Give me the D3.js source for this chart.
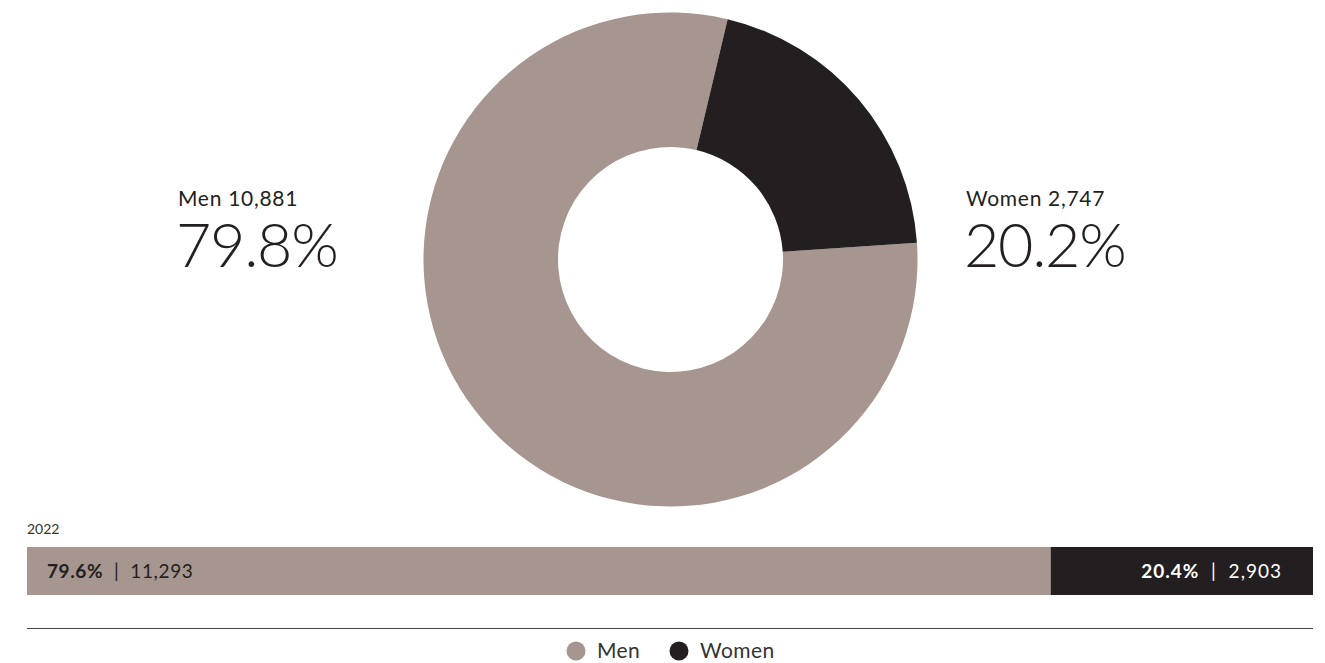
<!DOCTYPE html>
<html>
<head>
<meta charset="utf-8">
<script src="https://cdn.jsdelivr.net/npm/d3@7"></script>
<style>
  html, body { margin: 0; padding: 0; background: #fff; }
  svg { display: block; font-family: Lato, "Open Sans", sans-serif; }
</style>
</head>
<body>
<svg id="chart" width="1325" height="663"></svg>
<script>
// Workforce by gender, current year (donut) and 2022 (bar)
const categories = ["Men", "Women"];
const headcount = [10881, 2747];
const shares = [79.8, 20.2];
const priorYear = "2022";
const priorHeadcount = [11293, 2903];
const priorShares = [79.6, 20.4];
const colors = ["#a6968f", "#231f20"];

const svg = d3.select("#chart");
const ink = "#231f20";
const fmt = d3.format(",");

// ---- Donut ----
const cx = 670.5, cy = 259.5, outerR = 247, innerR = 112.5;
const start = 86.1 * Math.PI / 180;
const pie = d3.pie().sort(null).value(d => d.v)
  .startAngle(start).endAngle(start + 2 * Math.PI);
const arc = d3.arc().innerRadius(innerR).outerRadius(outerR);
const arcs = pie(categories.map((c, i) => ({ c, v: shares[i], i })));

const g = svg.append("g").attr("transform", `translate(${cx},${cy})`);
g.selectAll("path").data(arcs).join("path")
  .attr("d", arc)
  .attr("fill", d => colors[d.data.i]);

// ---- Donut labels: name + headcount line, then large share line ----
const labelX = [178, 966];
categories.forEach((c, i) => {
  const t = svg.append("text")
    .attr("x", labelX[i]).attr("y", 206)
    .attr("fill", ink);
  t.append("tspan")
    .attr("x", labelX[i])
    .attr("font-size", 21).attr("font-weight", 400)
    .attr("letter-spacing", 0.7)
    .text(`${c} ${fmt(headcount[i])}`);
  t.append("tspan")
    .attr("x", labelX[i] - 2).attr("dy", 61)
    .attr("font-size", 61).attr("font-weight", 300)
    .attr("letter-spacing", -1.3)
    .text(`${shares[i].toFixed(1)}%`);
});

// ---- Prior year bar ----
const barX = 27, barW = 1286, barY = 547, barH = 48;
const x = d3.scaleLinear().domain([0, 100]).range([barX, barX + barW]);

svg.append("text")
  .attr("x", barX).attr("y", 534)
  .attr("font-size", 14).attr("fill", "#333")
  .text(priorYear);

let acc = 0;
const segs = priorShares.map((s, i) => {
  const d = { i, x0: acc, x1: acc + s };
  acc += s;
  return d;
});
svg.selectAll("rect.seg").data(segs).join("rect")
  .attr("class", "seg")
  .attr("x", d => x(d.x0))
  .attr("width", d => x(d.x1) - x(d.x0))
  .attr("y", barY).attr("height", barH)
  .attr("fill", d => colors[d.i]);

// left label (Men)
const tMen = svg.append("text")
  .attr("x", x(0) + 20).attr("y", barY + 31)
  .attr("font-size", 19).attr("letter-spacing", 0.6).attr("fill", ink);
tMen.append("tspan").attr("font-weight", 700).text(`${priorShares[0].toFixed(1)}%`);
tMen.append("tspan").attr("font-weight", 400).text(`  |  ${fmt(priorHeadcount[0])}`);

// right label (Women)
const tWom = svg.append("text")
  .attr("x", x(100) - 31).attr("y", barY + 31)
  .attr("text-anchor", "end")
  .attr("font-size", 19).attr("letter-spacing", 1).attr("fill", "#fff");
tWom.append("tspan").attr("font-weight", 700).text(`${priorShares[1].toFixed(1)}%`);
tWom.append("tspan").attr("font-weight", 400).text(`  |  ${fmt(priorHeadcount[1])}`);
[tMen, tWom].forEach(t => t.attr("xml:space", "preserve"));

// ---- Divider ----
svg.append("line")
  .attr("x1", barX).attr("x2", barX + barW)
  .attr("y1", 628.5).attr("y2", 628.5)
  .attr("stroke", "#444").attr("stroke-width", 1.2);

// ---- Legend ----
const legendX = [576, 679];
categories.forEach((c, i) => {
  svg.append("circle")
    .attr("cx", legendX[i]).attr("cy", 651).attr("r", 9.5)
    .attr("fill", colors[i]);
  svg.append("text")
    .attr("x", legendX[i] + 21).attr("y", 658)
    .attr("font-size", 21).attr("letter-spacing", 0.4).attr("fill", "#333")
    .text(c);
});
</script>
</body>
</html>
